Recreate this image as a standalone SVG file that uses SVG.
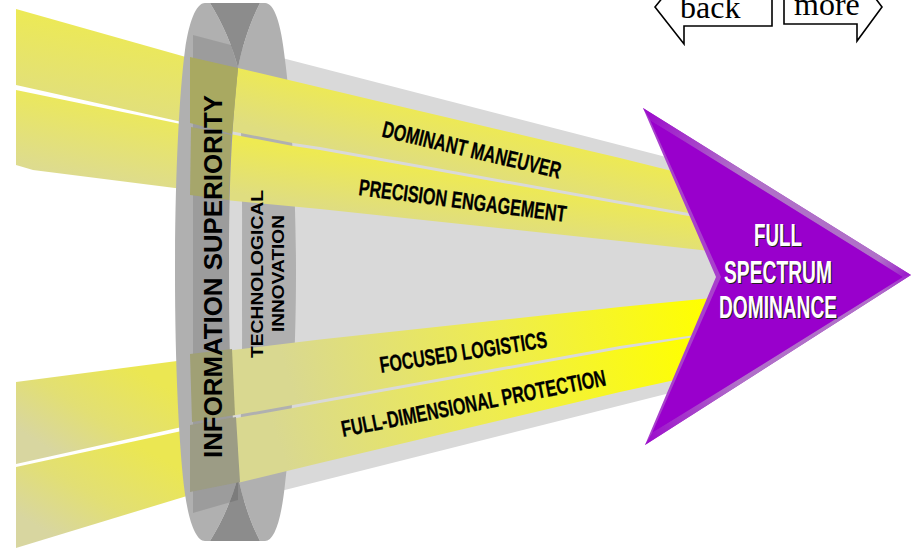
<svg xmlns="http://www.w3.org/2000/svg" width="911" height="549" viewBox="0 0 911 549">
<style>
text{font-family:"Liberation Sans",Arial,sans-serif;font-weight:bold;fill:#000}
.nav{fill:#fff;stroke:#000;stroke-width:1.6}
.navt{font-family:"Liberation Serif","Times New Roman",serif;font-weight:normal;font-size:32px}
.lens{fill:#b0b0b0}
.beam{font-size:23px;stroke:#000;stroke-width:.3}
.fsd{font-size:32px;text-anchor:start}
.w{fill:#fff}
.k{fill:#222}
</style>
<defs>
<linearGradient id="up1" gradientUnits="userSpaceOnUse" x1="120" y1="30" x2="105" y2="120"><stop offset="0" stop-color="#ece957"/><stop offset="1" stop-color="#e0de80"/></linearGradient>
<linearGradient id="up2" gradientUnits="userSpaceOnUse" x1="100" y1="105" x2="85" y2="180"><stop offset="0" stop-color="#ebe85c"/><stop offset="1" stop-color="#dddb90"/></linearGradient>
<linearGradient id="upR1" gradientUnits="userSpaceOnUse" x1="470" y1="118" x2="455" y2="178"><stop offset="0" stop-color="#eeea52"/><stop offset="1" stop-color="#dfdd80"/></linearGradient>
<linearGradient id="upR2" gradientUnits="userSpaceOnUse" x1="470" y1="175" x2="462" y2="228"><stop offset="0" stop-color="#eeea52"/><stop offset="1" stop-color="#dfdd80"/></linearGradient>
<linearGradient id="lowL1" gradientUnits="userSpaceOnUse" x1="130" y1="365" x2="70" y2="462"><stop offset="0" stop-color="#ebe752"/><stop offset=".55" stop-color="#e2df74"/><stop offset="1" stop-color="#d8d6a0"/></linearGradient>
<linearGradient id="lowL2" gradientUnits="userSpaceOnUse" x1="130" y1="440" x2="70" y2="545"><stop offset="0" stop-color="#ebe752"/><stop offset=".55" stop-color="#e2df74"/><stop offset="1" stop-color="#d8d6a0"/></linearGradient>
<linearGradient id="lowR1" gradientUnits="userSpaceOnUse" x1="700" y1="290" x2="300" y2="415"><stop offset="0" stop-color="#ffff00"/><stop offset=".5" stop-color="#eeec50"/><stop offset="1" stop-color="#d9d890"/></linearGradient>
<linearGradient id="lowR2" gradientUnits="userSpaceOnUse" x1="690" y1="335" x2="290" y2="475"><stop offset="0" stop-color="#ffff00"/><stop offset=".5" stop-color="#eeec50"/><stop offset="1" stop-color="#d9d890"/></linearGradient>
<linearGradient id="edgeT" gradientUnits="userSpaceOnUse" x1="650" y1="115" x2="905" y2="275"><stop offset="0" stop-color="#9d10cc"/><stop offset=".35" stop-color="#b070c8"/><stop offset=".9" stop-color="#b070c8"/><stop offset="1" stop-color="#9d20cc"/></linearGradient>
<linearGradient id="edgeB" gradientUnits="userSpaceOnUse" x1="650" y1="440" x2="905" y2="278"><stop offset="0" stop-color="#9d10cc"/><stop offset=".35" stop-color="#b070c8"/><stop offset=".9" stop-color="#b070c8"/><stop offset="1" stop-color="#a030cc"/></linearGradient>
</defs>

<g id="cone"><polygon points="193,35 670,158 720,277 670,393 193,513" fill="#d9d9d9"/></g>

<g id="lens-right">
<path class="lens" d="M260,3 L265,3 C274,3 281,22 285,60 C291,105 296,190 296,272 C296,354 291,439 285,484 C281,522 274,541 265,541 L260,541 C250,522 242,497 238,476 C243,400 242,340 242,272 C242,204 243,144 238,68 C242,47 250,22 260,3Z"/>
</g>

<g id="beams-right">
<polygon fill="url(#upR1)" points="225,65 373,100 620,158 700,178 700,215 620,201 320,147 293,143 225,130"/>
<polygon fill="url(#upR2)" points="225,133 293,146 320,150 620,204 700,218 710,251 620,241 320,209 225,200"/>
<polygon fill="url(#lowR1)" points="225,351 320,339.5 620,307 712,298 695,335 620,346 320,400 293,405 225,417"/>
<polygon fill="url(#lowR2)" points="225,420 293,408 320,403 620,349 695,337 675,380 620,392 320,463 287,471 225,486"/>
</g>

<g id="beams-left">
<polygon fill="url(#up1)" points="16,9 200,61 200,126 16,85"/>
<polygon fill="url(#up2)" points="16,90 200,128 200,190 175,188 33,170 16,165"/>
<polygon fill="url(#lowL1)" points="16,382 200,358 200,423 16,464"/>
<polygon fill="url(#lowL2)" points="16,467 200,427 200,492 16,548"/>
</g>

<g id="lens-left">
<path class="lens" d="M205,3 C196,3 189,22 185,50 C179,95 175,180 175,272 C175,364 179,449 185,494 C189,522 196,541 205,541 L210,541 C222,522 233,497 238,476 C230,400 229,340 229,272 C229,204 230,144 238,68 C233,47 222,22 210,3Z"/>
<path fill="#8c8c8c" d="M210,3 L260,3 C250,22 242,47 238,68 C233,47 222,22 210,3Z"/>
<path fill="#8c8c8c" d="M210,541 L260,541 C250,522 242,497 238,476 C233,497 222,522 210,541Z"/>
<path fill="#000" fill-opacity=".11" d="M193,35 L231,45 L238,68 C230,144 229,204 229,272 C229,340 230,400 238,476 L238,500 L193,513Z"/>
</g>

<g id="beams-inner">
<polygon fill="#a9a961" points="190,57 238,68 232,134 190,123"/>
<polygon fill="#a6a66b" points="191,127 231,135 229,200 190,195"/>
<polygon fill="#a0a075" points="190,354 232,349 235,415 192,422"/>
<polygon fill="#9c9c85" points="190,425 236,417 240,482 190,492"/>
</g>

<g id="arrow">
<polygon points="643,108 911,275 645,445 716,277" fill="#a840cc"/>
<polygon points="643,108 911,275 903,277 650,120" fill="url(#edgeT)"/>
<polygon points="645,445 911,275 903,277 652,433" fill="url(#edgeB)"/>
<polygon points="650,120 903,277 652,433 721,277" fill="#9900cc"/>
</g>

<g id="labels">
<text class="beam" transform="translate(381,136.5) rotate(13.3)" textLength="183" lengthAdjust="spacingAndGlyphs">DOMINANT MANEUVER</text>
<text class="beam" transform="translate(358,195) rotate(7.4)" textLength="209" lengthAdjust="spacingAndGlyphs">PRECISION ENGAGEMENT</text>
<text class="beam" transform="translate(381,373) rotate(-8.8)" textLength="169" lengthAdjust="spacingAndGlyphs">FOCUSED LOGISTICS</text>
<text class="beam" transform="translate(343,437) rotate(-11.1)" textLength="269" lengthAdjust="spacingAndGlyphs">FULL-DIMENSIONAL PROTECTION</text>
<text transform="translate(222,458) rotate(-90)" font-size="25" textLength="363" lengthAdjust="spacingAndGlyphs">INFORMATION SUPERIORITY</text>
<text transform="translate(263,358) rotate(-90)" font-size="17" textLength="168" lengthAdjust="spacingAndGlyphs">TECHNOLOGICAL</text>
<text transform="translate(283.5,332) rotate(-90)" font-size="17" textLength="117" lengthAdjust="spacingAndGlyphs">INNOVATION</text>
</g>

<g id="fsd-label">
<text class="fsd k" x="755" y="247" textLength="48" lengthAdjust="spacingAndGlyphs">FULL</text>
<text class="fsd k" x="725" y="284" textLength="108" lengthAdjust="spacingAndGlyphs">SPECTRUM</text>
<text class="fsd k" x="720" y="319" textLength="118" lengthAdjust="spacingAndGlyphs">DOMINANCE</text>
<text class="fsd w" x="754" y="246" textLength="48" lengthAdjust="spacingAndGlyphs">FULL</text>
<text class="fsd w" x="724" y="283" textLength="108" lengthAdjust="spacingAndGlyphs">SPECTRUM</text>
<text class="fsd w" x="719" y="318" textLength="118" lengthAdjust="spacingAndGlyphs">DOMINANCE</text>
</g>

<g id="nav-back">
<polygon class="nav" points="668,-9 655,7 684,44 684,26 772,26 772,-9"/>
<text class="navt" x="680" y="18">back</text>
</g>
<g id="nav-more">
<polygon class="nav" points="784,-9 784,24 857,24 857,41 882,7 870,-9"/>
<text class="navt" x="794" y="15">more</text>
</g>
</svg>
